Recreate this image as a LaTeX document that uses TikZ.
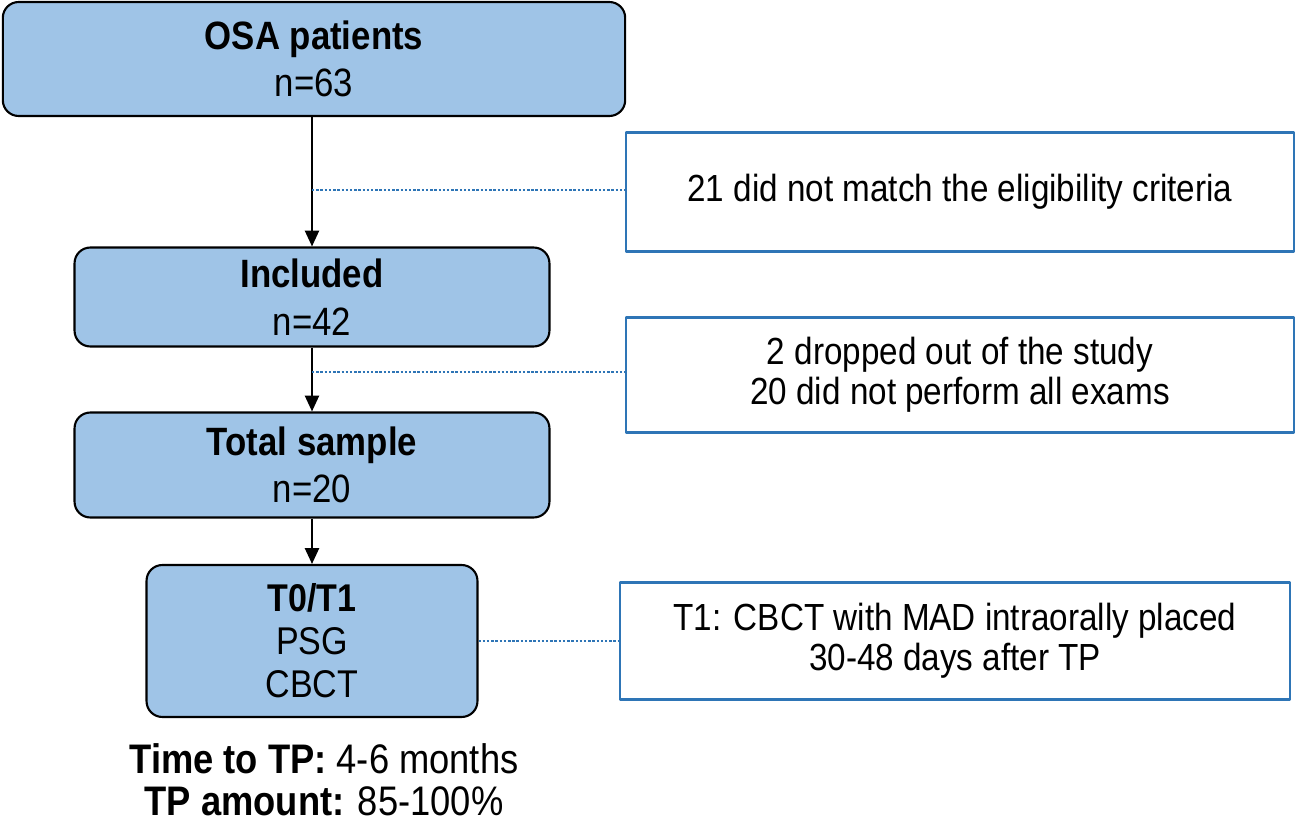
\documentclass[tikz,border=0pt]{standalone}
\usepackage{fontspec}
\setmainfont{Liberation Sans}[FakeStretch=0.88]
\usetikzlibrary{arrows.meta}
\definecolor{boxfill}{RGB}{159,196,231}
\definecolor{noteblue}{RGB}{46,117,182}
\tikzset{stage/.style={draw=black,fill=boxfill,line width=1.2pt,rounded corners=9pt,
   align=center,inner sep=0pt,font=\fontsize{22.5}{27}\selectfont},
 note/.style={draw=noteblue,fill=white,line width=1.2pt,align=center,inner sep=0pt,
   font=\fontsize{21.5}{23}\selectfont},
 flow/.style={draw=black,line width=1.2pt,-{Triangle[width=8pt,length=9pt]}},
 link/.style={draw=noteblue,line width=1.3pt,dash pattern=on 1.4pt off 1pt},
 every picture/.style={line join=round}}

\begin{document}
\begin{tikzpicture}[x=0.02cm,y=-0.02cm]
\useasboundingbox (0,0) rectangle (1296,825);
% main stages
\node[stage,minimum width=12.45cm,minimum height=2.28cm] (osa) at (314,59) {\textbf{OSA patients}\\n=63};
\node[stage,minimum width=9.5cm,minimum height=1.98cm] (incl) at (312,297) {\textbf{Included}\\n=42};
\node[stage,minimum width=9.5cm,minimum height=2.1cm] (total) at (312,465) {\textbf{Total sample}\\n=20};
\node[stage,minimum width=6.62cm,minimum height=3.04cm,font=\fontsize{22}{24.5}\selectfont] (tzero) at (312,641) {\textbf{T0/T1}\\PSG\\CBCT};
\node[align=center,inner sep=0pt,font=\fontsize{23.5}{24}\selectfont] (tp) at (324,780) {\textbf{Time to TP:} 4-6 months\\\textbf{TP amount:} 85-100\%};
% side notes
\node[note,minimum width=13.36cm,minimum height=2.38cm] (excl) at (960,192) {21 did not match the eligibility criteria};
\node[note,minimum width=13.36cm,minimum height=2.3cm] (drop) at (960,375) {2 dropped out of the study\\20 did not perform all exams};
\node[note,minimum width=13.4cm,minimum height=2.34cm] (mad) at (955,641) {T1: CBCT with MAD intraorally placed\\30-48 days after TP};
% arrows
\draw[flow] (osa.south -| incl.north) -- (incl.north);
\draw[flow] (incl) -- (total);
\draw[flow] (total) -- (tzero);
% dotted links
\coordinate (jexcl) at (312,190);
\coordinate (jdrop) at (312,372);
\draw[link] (jexcl) -- (jexcl -| excl.west);
\draw[link] (jdrop) -- (jdrop -| drop.west);
\draw[link] (tzero.east) -- (mad.west);
\end{tikzpicture}
\end{document}
